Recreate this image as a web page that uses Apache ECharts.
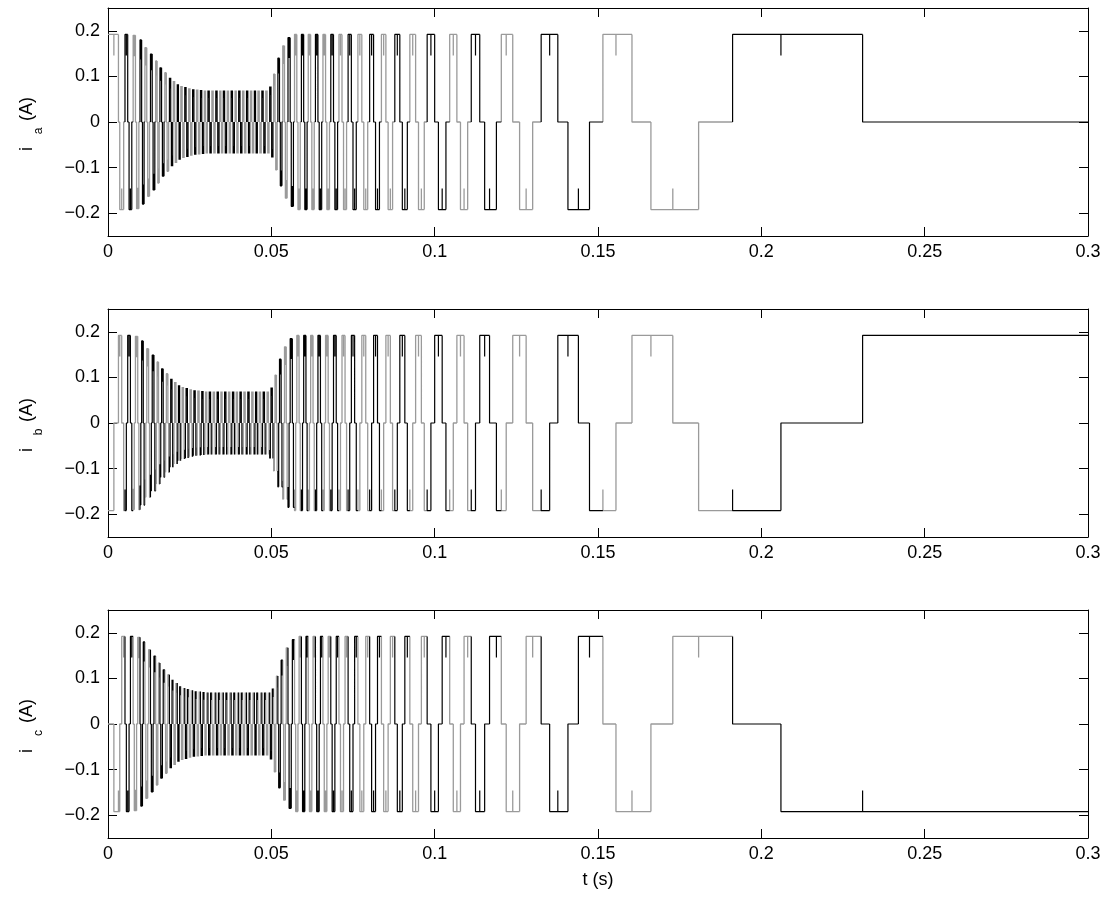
<!DOCTYPE html>
<html><head><meta charset="utf-8">
<script src="https://cdn.jsdelivr.net/npm/echarts@6/dist/echarts.min.js"></script>
<style>html,body{margin:0;padding:0;background:#fff}#c{width:1111px;height:899px}</style>
</head><body><div id="c"></div>
<script>
// ---- data ----
const xTicks = [0, 0.05, 0.1, 0.15, 0.2, 0.25, 0.3];
const yTicks = [-0.2, -0.1, 0, 0.1, 0.2];
const phaseSubs = ['a', 'b', 'c'];
// first electrical cycle: individual step times (s)
const headSteps = [0.0000, 0.0018, 0.0032, 0.0036, 0.0042, 0.0048];
// start times of the following electrical cycles (phase a positive pulse onsets), 6 steps each
const cycleStarts = [
  0.0052, 0.0077, 0.0098, 0.0113, 0.0130, 0.0146, 0.0159, 0.0174, 0.0188, 0.0200, 0.0212, 0.0223,
  0.0235, 0.0247, 0.0259, 0.0271, 0.0283, 0.0295, 0.0306, 0.0318, 0.0330, 0.0342, 0.0353,
  0.0365, 0.0377, 0.0389, 0.0400, 0.0412, 0.0424, 0.0436, 0.0448, 0.0459, 0.0471, 0.0483,
  0.0495, 0.0507, 0.0520, 0.0535, 0.0551, 0.0571, 0.0592, 0.0613, 0.0635, 0.0658, 0.0682,
  0.0707, 0.0735, 0.0765, 0.0801, 0.0837, 0.0878, 0.0924, 0.0977, 0.1046
];
// current amplitude (A) in each of those cycles
const cycleAmps = [
  0.192, 0.190, 0.180, 0.163, 0.149, 0.134, 0.119, 0.108, 0.097, 0.090, 0.083, 0.079,
  0.077, 0.074, 0.072, 0.071, 0.070, 0.069, 0.069, 0.069, 0.069, 0.069, 0.069,
  0.069, 0.069, 0.069, 0.069, 0.069, 0.069, 0.069, 0.069, 0.069, 0.069, 0.069,
  0.078, 0.105, 0.140, 0.167, 0.185, 0.192, 0.192, 0.192, 0.192, 0.192, 0.192,
  0.192, 0.192, 0.192, 0.192, 0.192, 0.192, 0.192, 0.192, 0.192
];
// last steps: individual step times (s)
const tailSteps = [
  0.1112, 0.1125, 0.1138, 0.1153, 0.1168, 0.1189,
  0.1204, 0.1219, 0.1239, 0.1260, 0.1280, 0.1300,
  0.1326, 0.1352, 0.1377, 0.1408, 0.1440, 0.1474,
  0.1515, 0.1555, 0.1604, 0.1662, 0.1729, 0.1808,
  0.1912, 0.2060, 0.2310
];
const fullAmp = 0.192;
const spikeFrac = 0.24;   // commutation dip, as a fraction of the current level
const tEnd = 0.3;
// sign of each phase current over the 6 steps of one electrical cycle
const patternA = [1, 1, 0, -1, -1, 0];
const patternB = [-1, 0, 1, 1, 0, -1];
const patternC = [0, -1, -1, 0, 1, 1];

// ---- build step list ----
const steps = [];
headSteps.forEach(t => steps.push({ t, amp: fullAmp }));
cycleStarts.forEach((t0, i) => {
  const t1 = i + 1 < cycleStarts.length ? cycleStarts[i + 1] : tailSteps[0];
  for (let k = 0; k < 6; k++) steps.push({ t: t0 + (t1 - t0) * k / 6, amp: cycleAmps[i] });
});
tailSteps.forEach(t => steps.push({ t, amp: fullAmp }));

function phaseData(pattern) {
  const dark = [], light = [];
  for (let k = 0; k < steps.length; k++) {
    const s = steps[k];
    const tNext = k + 1 < steps.length ? steps[k + 1].t : tEnd;
    const sign = pattern[k % 6];
    const level = sign * s.amp;
    const pts = [];
    if (k > 0) {
      const pSign = pattern[(k - 1) % 6];
      pts.push([s.t, pSign * steps[k - 1].amp]);
      if (pSign === sign && sign !== 0) pts.push([s.t, level * (1 - spikeFrac)]);
    }
    pts.push([s.t, level], [tNext, level]);
    const cycle = Math.floor(k / 6);
    const target = (cycle % 2 === 1) ? dark : light;
    target.push(...pts, [tNext, null]);
  }
  return { dark, light };
}
const phases = [phaseData(patternA), phaseData(patternB), phaseData(patternC)];

// ---- chart ----
const FONT = '"Liberation Sans", Arial, Helvetica, sans-serif';
const tops = [8, 309, 610];
const H = 228;
const grid = tops.map(top => ({ left: 108, right: 23, top, height: H }));
const lineStyle = { color: '#000', width: 1 };
const xFmt = v => v === 0 ? '0' : String(+v.toFixed(2));
const yFmt = v => Math.abs(v) < 1e-9 ? '0' : (v < 0 ? '\u2212' : '') + Math.abs(v).toFixed(1);

const xAxis = [], yAxis = [], series = [], graphic = [];
tops.forEach((top, p) => {
  ['bottom', 'top'].forEach(pos => {
    xAxis.push({
      gridIndex: p, type: 'value', position: pos, min: 0, max: 0.3, interval: 0.05,
      axisLine: { show: true, onZero: false, lineStyle },
      axisTick: { show: true, inside: true, length: 9, lineStyle },
      axisLabel: { show: pos === 'bottom', color: '#000', fontSize: 18, fontFamily: FONT, margin: 7, formatter: xFmt, customValues: xTicks },
      splitLine: { show: false }
    });
  });
  ['left', 'right'].forEach(pos => {
    yAxis.push({
      gridIndex: p, type: 'value', position: pos, min: -0.25, max: 0.25,
      axisLine: { show: true, onZero: false, lineStyle },
      axisTick: { show: true, inside: true, length: 9, lineStyle, customValues: yTicks },
      axisLabel: { show: pos === 'left', color: '#000', fontSize: 18, fontFamily: FONT, margin: 8, formatter: yFmt, customValues: yTicks },
      splitLine: { show: false }
    });
  });
  const base = { type: 'line', xAxisIndex: p * 2, yAxisIndex: p * 2, showSymbol: false, symbol: 'none',
    connectNulls: false, animation: false, silent: true, clip: true };
  series.push(Object.assign({}, base, { data: phases[p].light, lineStyle: { color: '#9a9a9a', width: 1.3 } }));
  series.push(Object.assign({}, base, { data: phases[p].dark, lineStyle: { color: '#000', width: 1.2 } }));

  const cy = top + H / 2;
  graphic.push({ type: 'text', x: 27, y: cy - 13, rotation: Math.PI / 2,
    style: { text: '(A)', font: '18px ' + FONT, fill: '#000', align: 'center', verticalAlign: 'middle' } });
  graphic.push({ type: 'text', x: 39, y: cy + 9, rotation: Math.PI / 2,
    style: { text: phaseSubs[p], font: '12px ' + FONT, fill: '#000', align: 'center', verticalAlign: 'middle' } });
  graphic.push({ type: 'text', x: 27, y: cy + 27, rotation: Math.PI / 2,
    style: { text: 'i', font: '18px ' + FONT, fill: '#000', align: 'center', verticalAlign: 'middle' } });
});
graphic.push({ type: 'text', x: 598, y: 880,
  style: { text: 't (s)', font: '18px ' + FONT, fill: '#000', align: 'center', verticalAlign: 'middle' } });

const chart = echarts.init(document.getElementById('c'), null, { renderer: 'canvas' });
chart.setOption({ backgroundColor: '#fff', animation: false, grid, xAxis, yAxis, series, graphic });
</script></body></html>
